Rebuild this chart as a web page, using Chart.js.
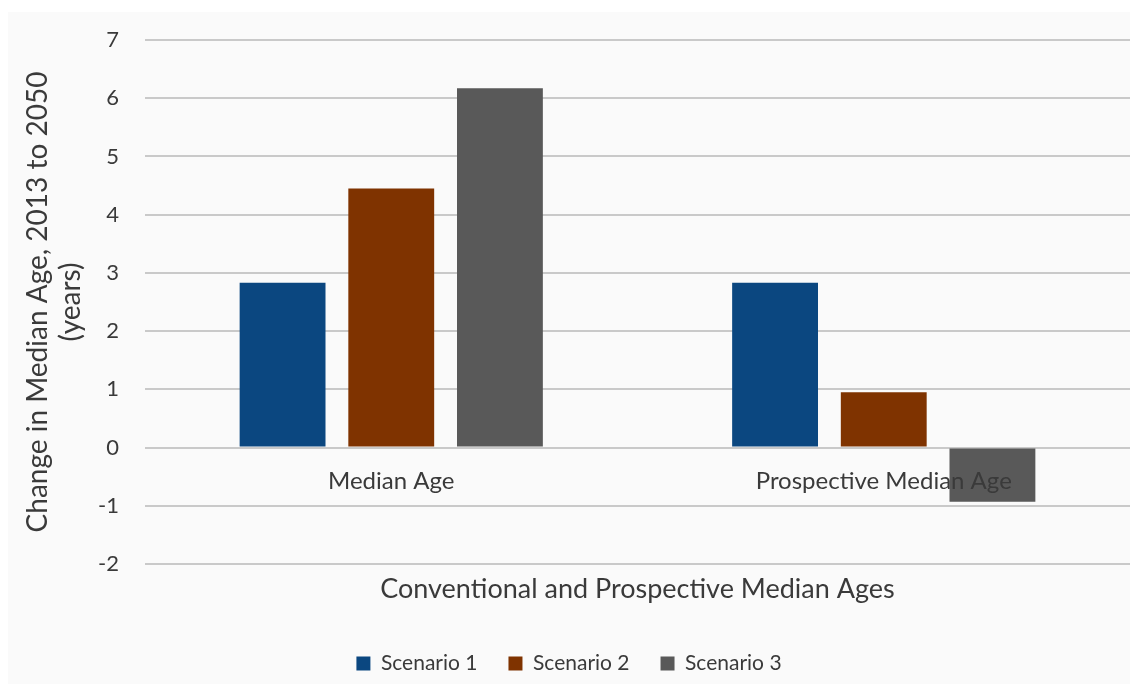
<!DOCTYPE html>
<html lang="en">
<head>
  <meta charset="UTF-8" />
  <title>Change in Median Age</title>
  <script src="https://cdn.jsdelivr.net/npm/chart.js"></script>
  <style>
    html, body { margin: 0; padding: 0; background: #ffffff; }
    #wrap {
      position: absolute;
      left: 8px;
      top: 12px;
      width: 1122px;
      height: 672px;
      background: #fafafa;
    }
  </style>
</head>
<body>
  <div id="wrap"><canvas id="chart" width="1122" height="672"></canvas></div>

  <script>
    const categories = ["Median Age", "Prospective Median Age"];
    const seriesNames = ["Scenario 1", "Scenario 2", "Scenario 3"];
    const scenario1 = [2.83, 2.83];
    const scenario2 = [4.45, 0.95];
    const scenario3 = [6.17, -0.93];
    const colors = ["#0b4780", "#7f3300", "#595959"];
    const yTitle = ["Change in Median Age, 2013 to 2050", "(years)"];
    const xTitle = "Conventional and Prospective Median Ages";

    const FONT = "Lato, 'Open Sans', sans-serif";
    const TEXT = "#3a3a3a";

    // category names sit just under the zero line, drawn over the bars
    const categoryLabels = {
      id: "categoryLabels",
      afterDatasetsDraw(chart) {
        const { ctx, scales: { x, y } } = chart;
        ctx.save();
        ctx.font = "24px " + FONT;
        ctx.fillStyle = TEXT;
        ctx.textAlign = "center";
        ctx.textBaseline = "middle";
        categories.forEach((c, i) => {
          ctx.fillText(c, x.getPixelForValue(i), y.getPixelForValue(0) + 34);
        });
        ctx.restore();
      }
    };

    new Chart(document.getElementById("chart"), {
      type: "bar",
      data: {
        labels: categories,
        datasets: [scenario1, scenario2, scenario3].map((d, i) => ({
          label: seriesNames[i],
          data: d,
          backgroundColor: colors[i],
          categoryPercentage: 0.662,
          barPercentage: 0.79
        }))
      },
      options: {
        responsive: false,
        animation: false,
        layout: { padding: { top: 28, right: 0, left: 0, bottom: 0 } },
        scales: {
          x: {
            grid: { display: false },
            border: { display: false },
            ticks: { display: false },
            title: {
              display: true,
              text: xTitle,
              color: TEXT,
              font: { family: FONT, size: 27 },
              padding: { top: 0, bottom: 17 }
            },
            afterFit: s => { s.height = 58; }
          },
          y: {
            min: -2,
            max: 7,
            ticks: {
              stepSize: 1,
              color: TEXT,
              font: { family: FONT, size: 22 },
              padding: 26
            },
            grid: { color: "#c9c9c9", lineWidth: 2, drawTicks: false },
            border: { display: false },
            title: {
              display: true,
              text: yTitle,
              color: TEXT,
              font: { family: FONT, size: 28 },
              padding: { top: 13, bottom: 0 }
            },
            afterFit: s => { s.width = 137; s.paddingTop = 0; s.paddingBottom = 0; }
          }
        },
        plugins: {
          legend: {
            position: "bottom",
            labels: {
              color: TEXT,
              font: { family: FONT, size: 21 },
              boxWidth: 14,
              boxHeight: 14,
              padding: 31
            }
          },
          tooltip: { enabled: false }
        }
      },
      plugins: [categoryLabels]
    });
  </script>
</body>
</html>
